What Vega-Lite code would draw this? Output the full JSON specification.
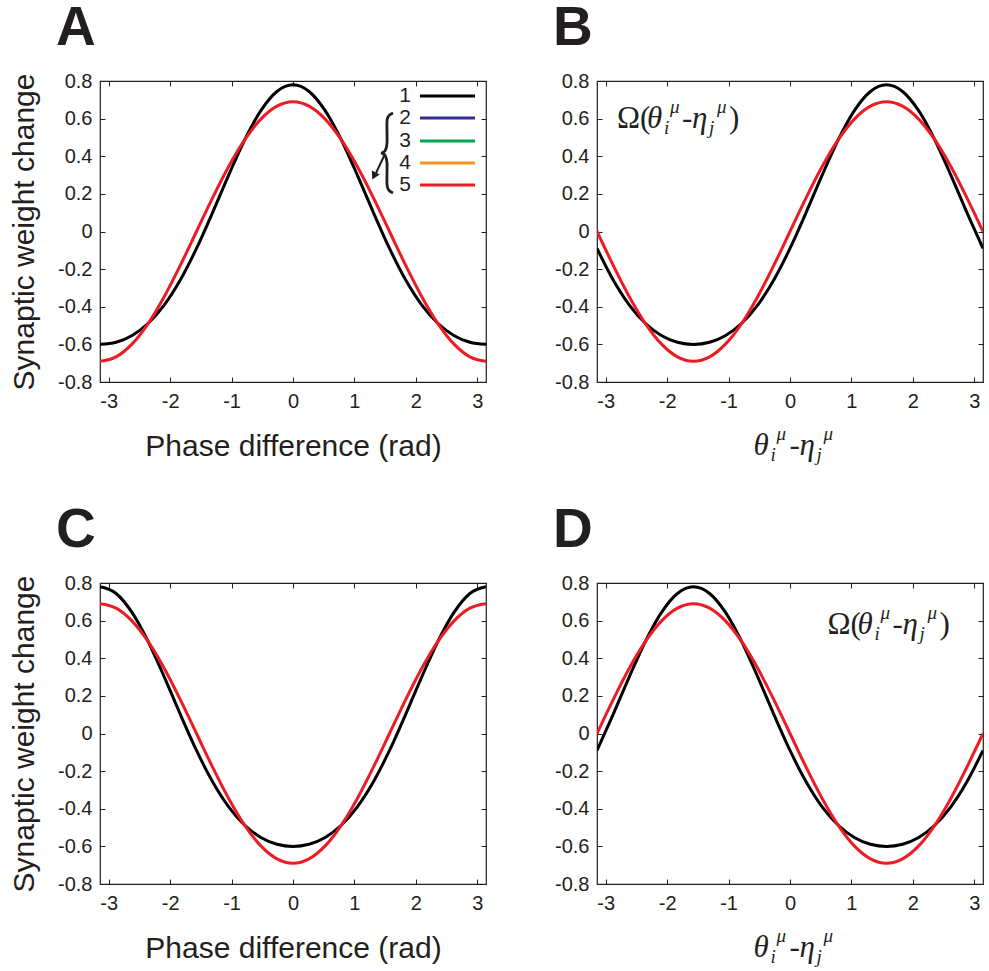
{
"$schema": "https://vega.github.io/schema/vega-lite/v6.json",
"padding": {"left": 8, "top": 0, "right": 2, "bottom": 2},
"background": "white",
"config": {
 "font": "Liberation Sans",
 "view": {"stroke": "#231f20", "strokeWidth": 1.2},
 "axis": {"grid": false, "domain": false, "ticks": true, "tickSize": -5, "tickColor": "#231f20", "tickWidth": 1, "labelPadding": 13, "labelFont": "Liberation Sans", "labelFontSize": 20, "labelColor": "#231f20", "titleFont": "Liberation Sans", "titleFontSize": 30, "titleFontWeight": "normal", "titleColor": "#231f20", "labelFlush": false, "labelOverlap": false},
 "axisBottom": {"titlePadding": 20, "labelPadding": 14},
 "axisLeft": {"titlePadding": 18},
 "title": {"anchor": "start", "frame": "group", "dx": -44, "fontSize": 55, "fontWeight": "bold", "font": "Liberation Sans", "color": "#231f20", "baseline": "alphabetic", "offset": 14}
},
"datasets": {
 "curves": [
{"x":-3.1416,"A1":-0.6,"A5":-0.69,"B1":-0.09,"B5":0,"C1":0.78,"C5":0.69,"D1":-0.09,"D5":0},
{"x":-2.8798,"A1":-0.5886,"A5":-0.6665,"B1":-0.2565,"B5":-0.1786,"C1":0.7444,"C5":0.6665,"D1":0.1007,"D5":0.1786},
{"x":-2.618,"A1":-0.5525,"A5":-0.5975,"B1":-0.39,"B5":-0.345,"C1":0.6425,"C5":0.5975,"D1":0.3,"D5":0.345},
{"x":-2.3562,"A1":-0.4879,"A5":-0.4879,"B1":-0.4879,"B5":-0.4879,"C1":0.4879,"C5":0.4879,"D1":0.4879,"D5":0.4879},
{"x":-2.0944,"A1":-0.39,"A5":-0.345,"B1":-0.5525,"B5":-0.5975,"C1":0.3,"C5":0.345,"D1":0.6425,"D5":0.5975},
{"x":-1.8326,"A1":-0.2565,"A5":-0.1786,"B1":-0.5886,"B5":-0.6665,"C1":0.1007,"C5":0.1786,"D1":0.7444,"D5":0.6665},
{"x":-1.5708,"A1":-0.09,"A5":0,"B1":-0.6,"B5":-0.69,"C1":-0.09,"C5":0,"D1":0.78,"D5":0.69},
{"x":-1.309,"A1":0.1007,"A5":0.1786,"B1":-0.5886,"B5":-0.6665,"C1":-0.2565,"C5":-0.1786,"D1":0.7444,"D5":0.6665},
{"x":-1.0472,"A1":0.3,"A5":0.345,"B1":-0.5525,"B5":-0.5975,"C1":-0.39,"C5":-0.345,"D1":0.6425,"D5":0.5975},
{"x":-0.7854,"A1":0.4879,"A5":0.4879,"B1":-0.4879,"B5":-0.4879,"C1":-0.4879,"C5":-0.4879,"D1":0.4879,"D5":0.4879},
{"x":-0.5236,"A1":0.6425,"A5":0.5975,"B1":-0.39,"B5":-0.345,"C1":-0.5525,"C5":-0.5975,"D1":0.3,"D5":0.345},
{"x":-0.2618,"A1":0.7444,"A5":0.6665,"B1":-0.2565,"B5":-0.1786,"C1":-0.5886,"C5":-0.6665,"D1":0.1007,"D5":0.1786},
{"x":0,"A1":0.78,"A5":0.69,"B1":-0.09,"B5":0,"C1":-0.6,"C5":-0.69,"D1":-0.09,"D5":0},
{"x":0.2618,"A1":0.7444,"A5":0.6665,"B1":0.1007,"B5":0.1786,"C1":-0.5886,"C5":-0.6665,"D1":-0.2565,"D5":-0.1786},
{"x":0.5236,"A1":0.6425,"A5":0.5975,"B1":0.3,"B5":0.345,"C1":-0.5525,"C5":-0.5975,"D1":-0.39,"D5":-0.345},
{"x":0.7854,"A1":0.4879,"A5":0.4879,"B1":0.4879,"B5":0.4879,"C1":-0.4879,"C5":-0.4879,"D1":-0.4879,"D5":-0.4879},
{"x":1.0472,"A1":0.3,"A5":0.345,"B1":0.6425,"B5":0.5975,"C1":-0.39,"C5":-0.345,"D1":-0.5525,"D5":-0.5975},
{"x":1.309,"A1":0.1007,"A5":0.1786,"B1":0.7444,"B5":0.6665,"C1":-0.2565,"C5":-0.1786,"D1":-0.5886,"D5":-0.6665},
{"x":1.5708,"A1":-0.09,"A5":0,"B1":0.78,"B5":0.69,"C1":-0.09,"C5":0,"D1":-0.6,"D5":-0.69},
{"x":1.8326,"A1":-0.2565,"A5":-0.1786,"B1":0.7444,"B5":0.6665,"C1":0.1007,"C5":0.1786,"D1":-0.5886,"D5":-0.6665},
{"x":2.0944,"A1":-0.39,"A5":-0.345,"B1":0.6425,"B5":0.5975,"C1":0.3,"C5":0.345,"D1":-0.5525,"D5":-0.5975},
{"x":2.3562,"A1":-0.4879,"A5":-0.4879,"B1":0.4879,"B5":0.4879,"C1":0.4879,"C5":0.4879,"D1":-0.4879,"D5":-0.4879},
{"x":2.618,"A1":-0.5525,"A5":-0.5975,"B1":0.3,"B5":0.345,"C1":0.6425,"C5":0.5975,"D1":-0.39,"D5":-0.345},
{"x":2.8798,"A1":-0.5886,"A5":-0.6665,"B1":0.1007,"B5":0.1786,"C1":0.7444,"C5":0.6665,"D1":-0.2565,"D5":-0.1786},
{"x":3.1416,"A1":-0.6,"A5":-0.69,"B1":-0.09,"B5":0,"C1":0.78,"C5":0.69,"D1":-0.09,"D5":0}
 ],
 "legend": [
  {"label": "1", "y": 0.72},
  {"label": "2", "y": 0.603},
  {"label": "3", "y": 0.481},
  {"label": "4", "y": 0.364},
  {"label": "5", "y": 0.247}
 ],
 "brace": [
  {"i": 0, "x": 1.628, "y": 0.63},
  {"i": 1, "x": 1.56, "y": 0.615},
  {"i": 2, "x": 1.53, "y": 0.585},
  {"i": 3, "x": 1.53, "y": 0.47},
  {"i": 4, "x": 1.5, "y": 0.43},
  {"i": 5, "x": 1.449, "y": 0.417},
  {"i": 6, "x": 1.5, "y": 0.404},
  {"i": 7, "x": 1.53, "y": 0.364},
  {"i": 8, "x": 1.53, "y": 0.25},
  {"i": 9, "x": 1.56, "y": 0.22},
  {"i": 10, "x": 1.628, "y": 0.205}
 ]
},
"columns": 2,
"spacing": {"row": 36, "column": 64},
"concat": [
 {
  "width": 386, "height": 301,
  "title": {"text": "A"},
  "resolve": {"axis": {"x": "independent", "y": "independent"}},
  "layer": [
   {"data": {"name": "curves"},
    "mark": {"type": "line", "color": "#000000", "strokeWidth": 3, "interpolate": "monotone", "clip": true},
    "encoding": {
     "x": {"field": "x", "type": "quantitative", "scale": {"domain": [-3.1416, 3.1416], "nice": false, "zero": false}, "axis": {"orient": "bottom", "values": [-3,-2,-1,0,1,2,3], "labelExpr": "replace(datum.label, '−', '-')", "title": "Phase difference (rad)"}},
     "y": {"field": "A1", "type": "quantitative", "scale": {"domain": [-0.8, 0.8], "nice": false, "zero": false}, "axis": {"orient": "left", "values": [-0.8,-0.6,-0.4,-0.2,0,0.2,0.4,0.6,0.8], "format": "~g", "labelExpr": "replace(datum.label, '−', '-')", "title": "Synaptic weight change"}}
    }},
   {"data": {"name": "curves"},
    "mark": {"type": "line", "color": "#ed1c24", "strokeWidth": 3, "interpolate": "monotone", "clip": true},
    "encoding": {
     "x": {"field": "x", "type": "quantitative", "axis": {"orient": "top", "values": [-3,-2,-1,0,1,2,3], "labels": false, "title": null}},
     "y": {"field": "A5", "type": "quantitative", "axis": {"orient": "right", "values": [-0.8,-0.6,-0.4,-0.2,0,0.2,0.4,0.6,0.8], "labels": false, "title": null}}
    }},
   {"data": {"name": "legend"},
    "mark": {"type": "rule", "strokeWidth": 3},
    "encoding": {
     "x": {"datum": 2.067, "type": "quantitative", "axis": null},
     "x2": {"datum": 2.963},
     "y": {"field": "y", "type": "quantitative", "axis": null},
     "color": {"field": "label", "type": "nominal", "scale": {"domain": ["1","2","3","4","5"], "range": ["#000000", "#2e3192", "#00a651", "#f7941d", "#ed1c24"]}, "legend": null}
    }},
   {"data": {"name": "legend"},
    "mark": {"type": "text", "align": "right", "baseline": "middle", "fontSize": 21, "font": "Liberation Sans", "color": "#231f20"},
    "encoding": {
     "x": {"datum": 1.92, "type": "quantitative", "axis": null},
     "y": {"field": "y", "type": "quantitative", "axis": null},
     "text": {"field": "label"}
    }},
   {"data": {"name": "brace"},
    "mark": {"type": "line", "interpolate": "cardinal", "strokeWidth": 2.8, "color": "#231f20"},
    "encoding": {
     "x": {"field": "x", "type": "quantitative", "axis": null},
     "y": {"field": "y", "type": "quantitative", "axis": null},
     "order": {"field": "i"}
    }},
   {"data": {"values": [{"from": "brace", "to": "curve"}]},
    "mark": {"type": "rule", "strokeWidth": 2, "color": "#231f20"},
    "encoding": {
     "x": {"datum": 1.4976, "type": "quantitative", "axis": null},
     "y": {"datum": 0.412, "type": "quantitative", "axis": null},
     "x2": {"datum": 1.351},
     "y2": {"datum": 0.311}
    }},
   {"data": {"values": [{"from": "brace", "to": "curve"}]},
    "mark": {"type": "point", "shape": "triangle-down", "filled": true, "color": "#231f20", "opacity": 1, "size": 80, "angle": 27},
    "encoding": {
     "x": {"datum": 1.319, "type": "quantitative", "axis": null},
     "y": {"datum": 0.295, "type": "quantitative", "axis": null}
    }}
  ]
 },
 {
  "width": 386, "height": 301,
  "title": {"text": "B"},
  "resolve": {"axis": {"x": "independent", "y": "independent"}},
  "layer": [
   {"data": {"name": "curves"},
    "mark": {"type": "line", "color": "#000000", "strokeWidth": 3, "interpolate": "monotone", "clip": true},
    "encoding": {
     "x": {"field": "x", "type": "quantitative", "scale": {"domain": [-3.1416, 3.1416], "nice": false, "zero": false}, "axis": {"orient": "bottom", "values": [-3,-2,-1,0,1,2,3], "labelExpr": "replace(datum.label, '−', '-')", "title": null}},
     "y": {"field": "B1", "type": "quantitative", "scale": {"domain": [-0.8, 0.8], "nice": false, "zero": false}, "axis": {"orient": "left", "values": [-0.8,-0.6,-0.4,-0.2,0,0.2,0.4,0.6,0.8], "format": "~g", "labelExpr": "replace(datum.label, '−', '-')", "title": null}}
    }},
   {"data": {"name": "curves"},
    "mark": {"type": "line", "color": "#ed1c24", "strokeWidth": 3, "interpolate": "monotone", "clip": true},
    "encoding": {
     "x": {"field": "x", "type": "quantitative", "axis": {"orient": "top", "values": [-3,-2,-1,0,1,2,3], "labels": false, "title": null}},
     "y": {"field": "B5", "type": "quantitative", "axis": {"orient": "right", "values": [-0.8,-0.6,-0.4,-0.2,0,0.2,0.4,0.6,0.8], "labels": false, "title": null}}
    }},
   {"data": {"values": [{"x": -2.817, "y": 0.55}]},
    "encoding": {
     "x": {"field": "x", "type": "quantitative", "axis": null},
     "y": {"field": "y", "type": "quantitative", "axis": null}
    },
    "layer": [
     {"mark": {"type": "text", "text": "Ω(", "font": "Liberation Serif", "fontSize": 31, "align": "left", "baseline": "alphabetic", "color": "#231f20", "dx": 0}},
     {"mark": {"type": "text", "text": "θ", "font": "Liberation Serif", "fontStyle": "italic", "fontSize": 31, "align": "left", "baseline": "alphabetic", "color": "#231f20", "dx": 30}},
     {"mark": {"type": "text", "text": "i", "font": "Liberation Serif", "fontStyle": "italic", "fontSize": 19, "align": "left", "baseline": "alphabetic", "color": "#231f20", "dx": 47, "dy": 6}},
     {"mark": {"type": "text", "text": "μ", "font": "Liberation Serif", "fontStyle": "italic", "fontSize": 19, "align": "left", "baseline": "alphabetic", "color": "#231f20", "dx": 53, "dy": -15}},
     {"mark": {"type": "text", "text": "-", "font": "Liberation Serif", "fontSize": 31, "align": "left", "baseline": "alphabetic", "color": "#231f20", "dx": 65}},
     {"mark": {"type": "text", "text": "η", "font": "Liberation Serif", "fontStyle": "italic", "fontSize": 31, "align": "left", "baseline": "alphabetic", "color": "#231f20", "dx": 75}},
     {"mark": {"type": "text", "text": "j", "font": "Liberation Serif", "fontStyle": "italic", "fontSize": 19, "align": "left", "baseline": "alphabetic", "color": "#231f20", "dx": 92, "dy": 6}},
     {"mark": {"type": "text", "text": "μ", "font": "Liberation Serif", "fontStyle": "italic", "fontSize": 19, "align": "left", "baseline": "alphabetic", "color": "#231f20", "dx": 100, "dy": -15}},
     {"mark": {"type": "text", "text": ")", "font": "Liberation Serif", "fontSize": 31, "align": "left", "baseline": "alphabetic", "color": "#231f20", "dx": 112}}
    ]},
   {"data": {"values": [{"x": -0.5925, "y": -1.188}]},
    "encoding": {
     "x": {"field": "x", "type": "quantitative", "axis": null},
     "y": {"field": "y", "type": "quantitative", "axis": null}
    },
    "layer": [
     {"mark": {"type": "text", "text": "θ", "font": "Liberation Serif", "fontStyle": "italic", "fontSize": 31, "align": "left", "baseline": "alphabetic", "color": "#231f20", "dx": 0}},
     {"mark": {"type": "text", "text": "i", "font": "Liberation Serif", "fontStyle": "italic", "fontSize": 19, "align": "left", "baseline": "alphabetic", "color": "#231f20", "dx": 17, "dy": 6}},
     {"mark": {"type": "text", "text": "μ", "font": "Liberation Serif", "fontStyle": "italic", "fontSize": 19, "align": "left", "baseline": "alphabetic", "color": "#231f20", "dx": 23, "dy": -15}},
     {"mark": {"type": "text", "text": "-", "font": "Liberation Serif", "fontSize": 31, "align": "left", "baseline": "alphabetic", "color": "#231f20", "dx": 36}},
     {"mark": {"type": "text", "text": "η", "font": "Liberation Serif", "fontStyle": "italic", "fontSize": 31, "align": "left", "baseline": "alphabetic", "color": "#231f20", "dx": 46}},
     {"mark": {"type": "text", "text": "j", "font": "Liberation Serif", "fontStyle": "italic", "fontSize": 19, "align": "left", "baseline": "alphabetic", "color": "#231f20", "dx": 63, "dy": 6}},
     {"mark": {"type": "text", "text": "μ", "font": "Liberation Serif", "fontStyle": "italic", "fontSize": 19, "align": "left", "baseline": "alphabetic", "color": "#231f20", "dx": 70, "dy": -15}}
    ]}
  ]
 },
 {
  "width": 386, "height": 301,
  "title": {"text": "C"},
  "resolve": {"axis": {"x": "independent", "y": "independent"}},
  "layer": [
   {"data": {"name": "curves"},
    "mark": {"type": "line", "color": "#000000", "strokeWidth": 3, "interpolate": "monotone", "clip": true},
    "encoding": {
     "x": {"field": "x", "type": "quantitative", "scale": {"domain": [-3.1416, 3.1416], "nice": false, "zero": false}, "axis": {"orient": "bottom", "values": [-3,-2,-1,0,1,2,3], "labelExpr": "replace(datum.label, '−', '-')", "title": "Phase difference (rad)"}},
     "y": {"field": "C1", "type": "quantitative", "scale": {"domain": [-0.8, 0.8], "nice": false, "zero": false}, "axis": {"orient": "left", "values": [-0.8,-0.6,-0.4,-0.2,0,0.2,0.4,0.6,0.8], "format": "~g", "labelExpr": "replace(datum.label, '−', '-')", "title": "Synaptic weight change"}}
    }},
   {"data": {"name": "curves"},
    "mark": {"type": "line", "color": "#ed1c24", "strokeWidth": 3, "interpolate": "monotone", "clip": true},
    "encoding": {
     "x": {"field": "x", "type": "quantitative", "axis": {"orient": "top", "values": [-3,-2,-1,0,1,2,3], "labels": false, "title": null}},
     "y": {"field": "C5", "type": "quantitative", "axis": {"orient": "right", "values": [-0.8,-0.6,-0.4,-0.2,0,0.2,0.4,0.6,0.8], "labels": false, "title": null}}
    }}
  ]
 },
 {
  "width": 386, "height": 301,
  "title": {"text": "D"},
  "resolve": {"axis": {"x": "independent", "y": "independent"}},
  "layer": [
   {"data": {"name": "curves"},
    "mark": {"type": "line", "color": "#000000", "strokeWidth": 3, "interpolate": "monotone", "clip": true},
    "encoding": {
     "x": {"field": "x", "type": "quantitative", "scale": {"domain": [-3.1416, 3.1416], "nice": false, "zero": false}, "axis": {"orient": "bottom", "values": [-3,-2,-1,0,1,2,3], "labelExpr": "replace(datum.label, '−', '-')", "title": null}},
     "y": {"field": "D1", "type": "quantitative", "scale": {"domain": [-0.8, 0.8], "nice": false, "zero": false}, "axis": {"orient": "left", "values": [-0.8,-0.6,-0.4,-0.2,0,0.2,0.4,0.6,0.8], "format": "~g", "labelExpr": "replace(datum.label, '−', '-')", "title": null}}
    }},
   {"data": {"name": "curves"},
    "mark": {"type": "line", "color": "#ed1c24", "strokeWidth": 3, "interpolate": "monotone", "clip": true},
    "encoding": {
     "x": {"field": "x", "type": "quantitative", "axis": {"orient": "top", "values": [-3,-2,-1,0,1,2,3], "labels": false, "title": null}},
     "y": {"field": "D5", "type": "quantitative", "axis": {"orient": "right", "values": [-0.8,-0.6,-0.4,-0.2,0,0.2,0.4,0.6,0.8], "labels": false, "title": null}}
    }},
   {"data": {"values": [{"x": 0.609, "y": 0.529}]},
    "encoding": {
     "x": {"field": "x", "type": "quantitative", "axis": null},
     "y": {"field": "y", "type": "quantitative", "axis": null}
    },
    "layer": [
     {"mark": {"type": "text", "text": "Ω(", "font": "Liberation Serif", "fontSize": 31, "align": "left", "baseline": "alphabetic", "color": "#231f20", "dx": 0}},
     {"mark": {"type": "text", "text": "θ", "font": "Liberation Serif", "fontStyle": "italic", "fontSize": 31, "align": "left", "baseline": "alphabetic", "color": "#231f20", "dx": 30}},
     {"mark": {"type": "text", "text": "i", "font": "Liberation Serif", "fontStyle": "italic", "fontSize": 19, "align": "left", "baseline": "alphabetic", "color": "#231f20", "dx": 47, "dy": 6}},
     {"mark": {"type": "text", "text": "μ", "font": "Liberation Serif", "fontStyle": "italic", "fontSize": 19, "align": "left", "baseline": "alphabetic", "color": "#231f20", "dx": 53, "dy": -15}},
     {"mark": {"type": "text", "text": "-", "font": "Liberation Serif", "fontSize": 31, "align": "left", "baseline": "alphabetic", "color": "#231f20", "dx": 65}},
     {"mark": {"type": "text", "text": "η", "font": "Liberation Serif", "fontStyle": "italic", "fontSize": 31, "align": "left", "baseline": "alphabetic", "color": "#231f20", "dx": 75}},
     {"mark": {"type": "text", "text": "j", "font": "Liberation Serif", "fontStyle": "italic", "fontSize": 19, "align": "left", "baseline": "alphabetic", "color": "#231f20", "dx": 92, "dy": 6}},
     {"mark": {"type": "text", "text": "μ", "font": "Liberation Serif", "fontStyle": "italic", "fontSize": 19, "align": "left", "baseline": "alphabetic", "color": "#231f20", "dx": 100, "dy": -15}},
     {"mark": {"type": "text", "text": ")", "font": "Liberation Serif", "fontSize": 31, "align": "left", "baseline": "alphabetic", "color": "#231f20", "dx": 112}}
    ]},
   {"data": {"values": [{"x": -0.5925, "y": -1.188}]},
    "encoding": {
     "x": {"field": "x", "type": "quantitative", "axis": null},
     "y": {"field": "y", "type": "quantitative", "axis": null}
    },
    "layer": [
     {"mark": {"type": "text", "text": "θ", "font": "Liberation Serif", "fontStyle": "italic", "fontSize": 31, "align": "left", "baseline": "alphabetic", "color": "#231f20", "dx": 0}},
     {"mark": {"type": "text", "text": "i", "font": "Liberation Serif", "fontStyle": "italic", "fontSize": 19, "align": "left", "baseline": "alphabetic", "color": "#231f20", "dx": 17, "dy": 6}},
     {"mark": {"type": "text", "text": "μ", "font": "Liberation Serif", "fontStyle": "italic", "fontSize": 19, "align": "left", "baseline": "alphabetic", "color": "#231f20", "dx": 23, "dy": -15}},
     {"mark": {"type": "text", "text": "-", "font": "Liberation Serif", "fontSize": 31, "align": "left", "baseline": "alphabetic", "color": "#231f20", "dx": 36}},
     {"mark": {"type": "text", "text": "η", "font": "Liberation Serif", "fontStyle": "italic", "fontSize": 31, "align": "left", "baseline": "alphabetic", "color": "#231f20", "dx": 46}},
     {"mark": {"type": "text", "text": "j", "font": "Liberation Serif", "fontStyle": "italic", "fontSize": 19, "align": "left", "baseline": "alphabetic", "color": "#231f20", "dx": 63, "dy": 6}},
     {"mark": {"type": "text", "text": "μ", "font": "Liberation Serif", "fontStyle": "italic", "fontSize": 19, "align": "left", "baseline": "alphabetic", "color": "#231f20", "dx": 70, "dy": -15}}
    ]}
  ]
 }
]
}
